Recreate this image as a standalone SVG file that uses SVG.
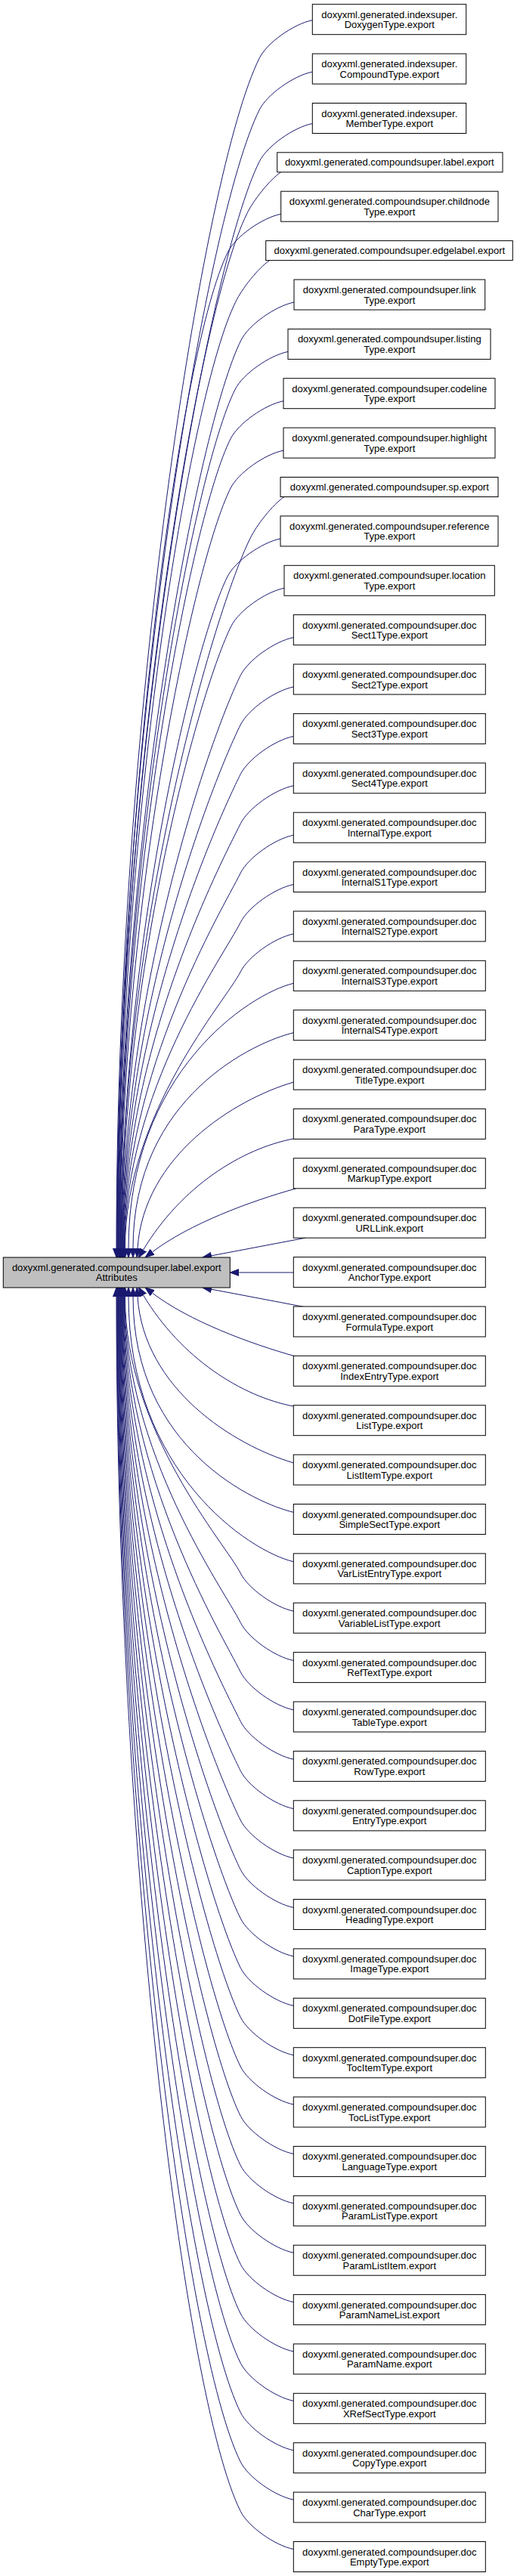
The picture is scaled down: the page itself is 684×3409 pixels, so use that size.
<svg xmlns="http://www.w3.org/2000/svg" width="684" height="3409" viewBox="0 0 684 3409">
<style>
.n rect{fill:#fff;stroke:#000;stroke-width:1}
.m rect{fill:#bfbfbf}
.n text{font-family:"Liberation Sans",Arial,sans-serif;font-size:13px;text-anchor:middle;fill:#000}
.e path{fill:none;stroke:#191970;stroke-width:1;marker-end:url(#ah)}
</style>
<defs>
<marker id="ah" markerUnits="userSpaceOnUse" viewBox="0 -6 14 12" markerWidth="14" markerHeight="12" refX="0" refY="0" orient="auto">
<path d="M0,-4.5 L12,0 L0,4.5 Z" fill="#191970" stroke="#191970" stroke-width="1"/>
</marker>
</defs>
<rect width="684" height="3409" fill="#fff"/>
<g id="edges" class="e">
<path d="M413.3,26.7 C388.3,31.7 353.3,56.7 343.3,76.7 C268.5,226.2 154,953.1 154,1652"/>
<path d="M413.3,95.1 C388.3,100.1 353.3,125.1 343.3,145.1 C271.7,288.3 154.6,982.5 154.6,1652"/>
<path d="M413.3,163.5 C388.3,168.5 353.3,193.5 343.3,213.5 C274.8,350.4 155.2,1012 155.2,1652"/>
<path d="M371.7,227.8 C356.7,237.8 334.7,265.8 326.7,282.8 C261.2,413.8 155.8,1039.6 155.8,1652"/>
<path d="M371.7,283.2 C346.7,288.2 311.7,313.2 301.7,333.2 C238.8,459.1 156.4,1063.4 156.4,1652"/>
<path d="M356.7,344.6 C341.7,354.6 319.7,382.6 311.7,399.6 C251.6,519.9 157,1089.8 157,1652"/>
<path d="M389,400 C364,405 329,430 319,450 C261.4,565.2 157.6,1113.6 157.6,1652"/>
<path d="M381,465.4 C356,470.4 321,495.4 311,515.4 C256.4,624.6 158.2,1141.8 158.2,1652"/>
<path d="M375,530.7 C350,535.7 315,560.7 305,580.7 C253.4,683.9 158.8,1169.8 158.8,1652"/>
<path d="M375,596.1 C350,601.1 315,626.1 305,646.1 C256.4,743.2 159.4,1198 159.4,1652"/>
<path d="M376,657.5 C361,667.5 339,695.5 331,712.5 C285.2,804 160,1224.4 160,1652"/>
<path d="M371,712.9 C346,717.9 311,742.9 301,762.9 C257.8,849.3 160.6,1248.2 160.6,1652"/>
<path d="M376,778.3 C351,783.3 316,808.3 306,828.3 C265.8,908.7 161.2,1276.3 161.2,1652"/>
<path d="M388.3,843.6 C363.3,848.6 328.3,873.6 318.3,893.6 C281.1,968 161.8,1304.4 161.8,1652"/>
<path d="M388.3,909 C363.3,914 328.3,939 318.3,959 C284.1,1027.4 162.4,1332.5 162.4,1652"/>
<path d="M388.3,974.4 C363.3,979.4 328.3,1004.4 318.3,1024.4 C287.2,1086.7 163,1360.6 163,1652"/>
<path d="M388.3,1039.8 C363.3,1044.8 328.3,1069.8 318.3,1089.8 C290.2,1146.1 163.6,1388.8 163.6,1652"/>
<path d="M388.3,1105.2 C363.3,1110.2 328.3,1135.2 318.3,1155.2 C293.2,1205.5 164.2,1416.9 164.2,1652"/>
<path d="M388.3,1170.5 C363.3,1175.5 328.3,1200.5 318.3,1220.5 C296.2,1264.8 164.8,1445 164.8,1652"/>
<path d="M388.3,1235.9 C363.3,1240.9 328.3,1265.9 318.3,1285.9 C299.2,1324.2 165.4,1473.1 165.4,1652"/>
<path d="M388.3,1301.3 C330,1315 170,1420 170,1652"/>
<path d="M388.3,1366.7 C340,1378 176,1450 176,1652"/>
<path d="M388.3,1432.1 C310,1455 190,1530 182,1652"/>
<path d="M388.3,1507 C320,1520 240,1570 189.6,1654"/>
<path d="M391.7,1572.8 C330,1590 250,1620 201.6,1656.8"/>
<path d="M404,1638.2 L279.8,1661.8"/>
<path d="M388.3,1684 L316.3,1684"/>
<path d="M404,1729.8 L279.8,1706.2"/>
<path d="M391.7,1795.2 C330,1778 250,1748 201.6,1711.2"/>
<path d="M388.3,1861 C320,1848 240,1798 189.6,1714"/>
<path d="M388.3,1935.9 C310,1913 190,1838 182,1716"/>
<path d="M388.3,2001.3 C340,1990 176,1918 176,1716"/>
<path d="M388.3,2066.7 C330,2053 170,1948 170,1716"/>
<path d="M388.3,2132.1 C363.3,2127.1 328.3,2102.1 318.3,2082.1 C299.2,2043.8 165.4,1894.9 165.4,1716"/>
<path d="M388.3,2197.5 C363.3,2192.5 328.3,2167.5 318.3,2147.5 C296.2,2103.2 164.8,1923 164.8,1716"/>
<path d="M388.3,2262.8 C363.3,2257.8 328.3,2232.8 318.3,2212.8 C293.2,2162.5 164.2,1951.1 164.2,1716"/>
<path d="M388.3,2328.2 C363.3,2323.2 328.3,2298.2 318.3,2278.2 C290.2,2221.9 163.6,1979.2 163.6,1716"/>
<path d="M388.3,2393.6 C363.3,2388.6 328.3,2363.6 318.3,2343.6 C287.2,2281.3 163,2007.4 163,1716"/>
<path d="M388.3,2459 C363.3,2454 328.3,2429 318.3,2409 C284.1,2340.6 162.4,2035.5 162.4,1716"/>
<path d="M388.3,2524.4 C363.3,2519.4 328.3,2494.4 318.3,2474.4 C281.1,2400 161.8,2063.6 161.8,1716"/>
<path d="M388.3,2588.9 C363.3,2583.9 328.3,2558.9 318.3,2538.9 C278.2,2458.6 161.2,2091.3 161.2,1716"/>
<path d="M388.3,2654.3 C363.3,2649.3 328.3,2624.3 318.3,2604.3 C275.2,2518 160.6,2119.5 160.6,1716"/>
<path d="M388.3,2719.7 C363.3,2714.7 328.3,2689.7 318.3,2669.7 C272.2,2577.4 160,2147.6 160,1716"/>
<path d="M388.3,2785 C363.3,2780 328.3,2755 318.3,2735 C269.2,2636.7 159.4,2175.7 159.4,1716"/>
<path d="M388.3,2850.4 C363.3,2845.4 328.3,2820.4 318.3,2800.4 C266.1,2696 158.8,2203.8 158.8,1716"/>
<path d="M388.3,2915.8 C363.3,2910.8 328.3,2885.8 318.3,2865.8 C263.1,2755.4 158.2,2231.9 158.2,1716"/>
<path d="M388.3,2981.2 C363.3,2976.2 328.3,2951.2 318.3,2931.2 C260.1,2814.8 157.6,2260 157.6,1716"/>
<path d="M388.3,3046.6 C363.3,3041.6 328.3,3016.6 318.3,2996.6 C257.1,2874.2 157,2288.2 157,1716"/>
<path d="M388.3,3111.9 C363.3,3106.9 328.3,3081.9 318.3,3061.9 C254.1,2933.5 156.4,2316.2 156.4,1716"/>
<path d="M388.3,3177.3 C363.3,3172.3 328.3,3147.3 318.3,3127.3 C251.1,2992.9 155.8,2344.4 155.8,1716"/>
<path d="M388.3,3242.7 C363.3,3237.7 328.3,3212.7 318.3,3192.7 C248.1,3052.2 155.2,2372.5 155.2,1716"/>
<path d="M388.3,3308.1 C363.3,3303.1 328.3,3278.1 318.3,3258.1 C245.1,3111.6 154.6,2400.6 154.6,1716"/>
<path d="M388.3,3373.5 C363.3,3368.5 328.3,3343.5 318.3,3323.5 C242.1,3171 154,2428.7 154,1716"/>
</g>
<g id="main" class="n m" transform="translate(0,1664)"><rect x="4.3" y="0" width="300" height="40"/><text x="154.3" y="17.5">doxyxml.generated.compoundsuper.label.export</text><text x="154.3" y="31">Attributes</text></g>
<g id="n1" class="n" transform="translate(0,5.7)"><rect x="413.3" y="0" width="203.4" height="40"/><text x="515.3" y="18">doxyxml.generated.indexsuper.</text><text x="515.3" y="31.5">DoxygenType.export</text></g>
<g id="n2" class="n" transform="translate(0,71.1)"><rect x="413.3" y="0" width="203.4" height="40"/><text x="515.3" y="18">doxyxml.generated.indexsuper.</text><text x="515.3" y="31.5">CompoundType.export</text></g>
<g id="n3" class="n" transform="translate(0,136.5)"><rect x="413.3" y="0" width="203.4" height="40"/><text x="515.3" y="18">doxyxml.generated.indexsuper.</text><text x="515.3" y="31.5">MemberType.export</text></g>
<g id="n4" class="n" transform="translate(0,201.8)"><rect x="366.7" y="0" width="298.3" height="26"/><text x="515.3" y="17.5">doxyxml.generated.compoundsuper.label.export</text></g>
<g id="n5" class="n" transform="translate(0,253.2)"><rect x="371.7" y="0" width="287.3" height="40"/><text x="515.3" y="18">doxyxml.generated.compoundsuper.childnode</text><text x="515.3" y="31.5">Type.export</text></g>
<g id="n6" class="n" transform="translate(0,318.6)"><rect x="351.7" y="0" width="326.6" height="26"/><text x="515.3" y="17.5">doxyxml.generated.compoundsuper.edgelabel.export</text></g>
<g id="n7" class="n" transform="translate(0,370)"><rect x="389" y="0" width="252.7" height="40"/><text x="515.3" y="18">doxyxml.generated.compoundsuper.link</text><text x="515.3" y="31.5">Type.export</text></g>
<g id="n8" class="n" transform="translate(0,435.4)"><rect x="381" y="0" width="268" height="40"/><text x="515.3" y="18">doxyxml.generated.compoundsuper.listing</text><text x="515.3" y="31.5">Type.export</text></g>
<g id="n9" class="n" transform="translate(0,500.7)"><rect x="375" y="0" width="280" height="40"/><text x="515.3" y="18">doxyxml.generated.compoundsuper.codeline</text><text x="515.3" y="31.5">Type.export</text></g>
<g id="n10" class="n" transform="translate(0,566.1)"><rect x="375" y="0" width="280" height="40"/><text x="515.3" y="18">doxyxml.generated.compoundsuper.highlight</text><text x="515.3" y="31.5">Type.export</text></g>
<g id="n11" class="n" transform="translate(0,631.5)"><rect x="371" y="0" width="288" height="26"/><text x="515.3" y="17.5">doxyxml.generated.compoundsuper.sp.export</text></g>
<g id="n12" class="n" transform="translate(0,682.9)"><rect x="371" y="0" width="288" height="40"/><text x="515.3" y="18">doxyxml.generated.compoundsuper.reference</text><text x="515.3" y="31.5">Type.export</text></g>
<g id="n13" class="n" transform="translate(0,748.3)"><rect x="376" y="0" width="278.3" height="40"/><text x="515.3" y="18">doxyxml.generated.compoundsuper.location</text><text x="515.3" y="31.5">Type.export</text></g>
<g id="n14" class="n" transform="translate(0,813.6)"><rect x="388.3" y="0" width="254" height="40"/><text x="515.3" y="18">doxyxml.generated.compoundsuper.doc</text><text x="515.3" y="31.5">Sect1Type.export</text></g>
<g id="n15" class="n" transform="translate(0,879)"><rect x="388.3" y="0" width="254" height="40"/><text x="515.3" y="18">doxyxml.generated.compoundsuper.doc</text><text x="515.3" y="31.5">Sect2Type.export</text></g>
<g id="n16" class="n" transform="translate(0,944.4)"><rect x="388.3" y="0" width="254" height="40"/><text x="515.3" y="18">doxyxml.generated.compoundsuper.doc</text><text x="515.3" y="31.5">Sect3Type.export</text></g>
<g id="n17" class="n" transform="translate(0,1009.8)"><rect x="388.3" y="0" width="254" height="40"/><text x="515.3" y="18">doxyxml.generated.compoundsuper.doc</text><text x="515.3" y="31.5">Sect4Type.export</text></g>
<g id="n18" class="n" transform="translate(0,1075.2)"><rect x="388.3" y="0" width="254" height="40"/><text x="515.3" y="18">doxyxml.generated.compoundsuper.doc</text><text x="515.3" y="31.5">InternalType.export</text></g>
<g id="n19" class="n" transform="translate(0,1140.5)"><rect x="388.3" y="0" width="254" height="40"/><text x="515.3" y="18">doxyxml.generated.compoundsuper.doc</text><text x="515.3" y="31.5">InternalS1Type.export</text></g>
<g id="n20" class="n" transform="translate(0,1205.9)"><rect x="388.3" y="0" width="254" height="40"/><text x="515.3" y="18">doxyxml.generated.compoundsuper.doc</text><text x="515.3" y="31.5">InternalS2Type.export</text></g>
<g id="n21" class="n" transform="translate(0,1271.3)"><rect x="388.3" y="0" width="254" height="40"/><text x="515.3" y="18">doxyxml.generated.compoundsuper.doc</text><text x="515.3" y="31.5">InternalS3Type.export</text></g>
<g id="n22" class="n" transform="translate(0,1336.7)"><rect x="388.3" y="0" width="254" height="40"/><text x="515.3" y="18">doxyxml.generated.compoundsuper.doc</text><text x="515.3" y="31.5">InternalS4Type.export</text></g>
<g id="n23" class="n" transform="translate(0,1402.1)"><rect x="388.3" y="0" width="254" height="40"/><text x="515.3" y="18">doxyxml.generated.compoundsuper.doc</text><text x="515.3" y="31.5">TitleType.export</text></g>
<g id="n24" class="n" transform="translate(0,1467.4)"><rect x="388.3" y="0" width="254" height="40"/><text x="515.3" y="18">doxyxml.generated.compoundsuper.doc</text><text x="515.3" y="31.5">ParaType.export</text></g>
<g id="n25" class="n" transform="translate(0,1532.8)"><rect x="388.3" y="0" width="254" height="40"/><text x="515.3" y="18">doxyxml.generated.compoundsuper.doc</text><text x="515.3" y="31.5">MarkupType.export</text></g>
<g id="n26" class="n" transform="translate(0,1598.2)"><rect x="388.3" y="0" width="254" height="40"/><text x="515.3" y="18">doxyxml.generated.compoundsuper.doc</text><text x="515.3" y="31.5">URLLink.export</text></g>
<g id="n27" class="n" transform="translate(0,1663.6)"><rect x="388.3" y="0" width="254" height="40"/><text x="515.3" y="18">doxyxml.generated.compoundsuper.doc</text><text x="515.3" y="31.5">AnchorType.export</text></g>
<g id="n28" class="n" transform="translate(0,1729)"><rect x="388.3" y="0" width="254" height="40"/><text x="515.3" y="18">doxyxml.generated.compoundsuper.doc</text><text x="515.3" y="31.5">FormulaType.export</text></g>
<g id="n29" class="n" transform="translate(0,1794.3)"><rect x="388.3" y="0" width="254" height="40"/><text x="515.3" y="18">doxyxml.generated.compoundsuper.doc</text><text x="515.3" y="31.5">IndexEntryType.export</text></g>
<g id="n30" class="n" transform="translate(0,1859.7)"><rect x="388.3" y="0" width="254" height="40"/><text x="515.3" y="18">doxyxml.generated.compoundsuper.doc</text><text x="515.3" y="31.5">ListType.export</text></g>
<g id="n31" class="n" transform="translate(0,1925.1)"><rect x="388.3" y="0" width="254" height="40"/><text x="515.3" y="18">doxyxml.generated.compoundsuper.doc</text><text x="515.3" y="31.5">ListItemType.export</text></g>
<g id="n32" class="n" transform="translate(0,1990.5)"><rect x="388.3" y="0" width="254" height="40"/><text x="515.3" y="18">doxyxml.generated.compoundsuper.doc</text><text x="515.3" y="31.5">SimpleSectType.export</text></g>
<g id="n33" class="n" transform="translate(0,2055.9)"><rect x="388.3" y="0" width="254" height="40"/><text x="515.3" y="18">doxyxml.generated.compoundsuper.doc</text><text x="515.3" y="31.5">VarListEntryType.export</text></g>
<g id="n34" class="n" transform="translate(0,2121.2)"><rect x="388.3" y="0" width="254" height="40"/><text x="515.3" y="18">doxyxml.generated.compoundsuper.doc</text><text x="515.3" y="31.5">VariableListType.export</text></g>
<g id="n35" class="n" transform="translate(0,2186.6)"><rect x="388.3" y="0" width="254" height="40"/><text x="515.3" y="18">doxyxml.generated.compoundsuper.doc</text><text x="515.3" y="31.5">RefTextType.export</text></g>
<g id="n36" class="n" transform="translate(0,2252)"><rect x="388.3" y="0" width="254" height="40"/><text x="515.3" y="18">doxyxml.generated.compoundsuper.doc</text><text x="515.3" y="31.5">TableType.export</text></g>
<g id="n37" class="n" transform="translate(0,2317.4)"><rect x="388.3" y="0" width="254" height="40"/><text x="515.3" y="18">doxyxml.generated.compoundsuper.doc</text><text x="515.3" y="31.5">RowType.export</text></g>
<g id="n38" class="n" transform="translate(0,2382.8)"><rect x="388.3" y="0" width="254" height="40"/><text x="515.3" y="18">doxyxml.generated.compoundsuper.doc</text><text x="515.3" y="31.5">EntryType.export</text></g>
<g id="n39" class="n" transform="translate(0,2448.1)"><rect x="388.3" y="0" width="254" height="40"/><text x="515.3" y="18">doxyxml.generated.compoundsuper.doc</text><text x="515.3" y="31.5">CaptionType.export</text></g>
<g id="n40" class="n" transform="translate(0,2513.5)"><rect x="388.3" y="0" width="254" height="40"/><text x="515.3" y="18">doxyxml.generated.compoundsuper.doc</text><text x="515.3" y="31.5">HeadingType.export</text></g>
<g id="n41" class="n" transform="translate(0,2578.9)"><rect x="388.3" y="0" width="254" height="40"/><text x="515.3" y="18">doxyxml.generated.compoundsuper.doc</text><text x="515.3" y="31.5">ImageType.export</text></g>
<g id="n42" class="n" transform="translate(0,2644.3)"><rect x="388.3" y="0" width="254" height="40"/><text x="515.3" y="18">doxyxml.generated.compoundsuper.doc</text><text x="515.3" y="31.5">DotFileType.export</text></g>
<g id="n43" class="n" transform="translate(0,2709.7)"><rect x="388.3" y="0" width="254" height="40"/><text x="515.3" y="18">doxyxml.generated.compoundsuper.doc</text><text x="515.3" y="31.5">TocItemType.export</text></g>
<g id="n44" class="n" transform="translate(0,2775)"><rect x="388.3" y="0" width="254" height="40"/><text x="515.3" y="18">doxyxml.generated.compoundsuper.doc</text><text x="515.3" y="31.5">TocListType.export</text></g>
<g id="n45" class="n" transform="translate(0,2840.4)"><rect x="388.3" y="0" width="254" height="40"/><text x="515.3" y="18">doxyxml.generated.compoundsuper.doc</text><text x="515.3" y="31.5">LanguageType.export</text></g>
<g id="n46" class="n" transform="translate(0,2905.8)"><rect x="388.3" y="0" width="254" height="40"/><text x="515.3" y="18">doxyxml.generated.compoundsuper.doc</text><text x="515.3" y="31.5">ParamListType.export</text></g>
<g id="n47" class="n" transform="translate(0,2971.2)"><rect x="388.3" y="0" width="254" height="40"/><text x="515.3" y="18">doxyxml.generated.compoundsuper.doc</text><text x="515.3" y="31.5">ParamListItem.export</text></g>
<g id="n48" class="n" transform="translate(0,3036.6)"><rect x="388.3" y="0" width="254" height="40"/><text x="515.3" y="18">doxyxml.generated.compoundsuper.doc</text><text x="515.3" y="31.5">ParamNameList.export</text></g>
<g id="n49" class="n" transform="translate(0,3101.9)"><rect x="388.3" y="0" width="254" height="40"/><text x="515.3" y="18">doxyxml.generated.compoundsuper.doc</text><text x="515.3" y="31.5">ParamName.export</text></g>
<g id="n50" class="n" transform="translate(0,3167.3)"><rect x="388.3" y="0" width="254" height="40"/><text x="515.3" y="18">doxyxml.generated.compoundsuper.doc</text><text x="515.3" y="31.5">XRefSectType.export</text></g>
<g id="n51" class="n" transform="translate(0,3232.7)"><rect x="388.3" y="0" width="254" height="40"/><text x="515.3" y="18">doxyxml.generated.compoundsuper.doc</text><text x="515.3" y="31.5">CopyType.export</text></g>
<g id="n52" class="n" transform="translate(0,3298.1)"><rect x="388.3" y="0" width="254" height="40"/><text x="515.3" y="18">doxyxml.generated.compoundsuper.doc</text><text x="515.3" y="31.5">CharType.export</text></g>
<g id="n53" class="n" transform="translate(0,3363.5)"><rect x="388.3" y="0" width="254" height="40"/><text x="515.3" y="18">doxyxml.generated.compoundsuper.doc</text><text x="515.3" y="31.5">EmptyType.export</text></g>
</svg>
